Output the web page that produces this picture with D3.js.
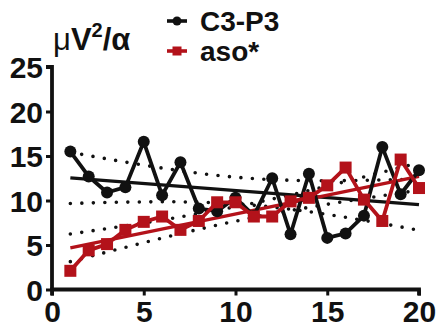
<!DOCTYPE html>
<html>
<head>
<meta charset="utf-8">
<script src="https://cdn.jsdelivr.net/npm/d3@7"></script>
<style>
  html, body { margin: 0; padding: 0; background: #fff; }
  svg { display: block; font-family: "Liberation Sans", Arial, sans-serif; }
</style>
</head>
<body>
<div id="chart"></div>
<script>
// values
const xs = d3.range(1, 21);
const c3p3 = [15.5, 12.7, 10.9, 11.5, 16.6, 10.6, 14.3, 9.1, 8.8, 10.3,
              8.3, 12.5, 6.2, 13.0, 5.8, 6.3, 8.3, 16.0, 10.7, 13.4];
const aso = [2.1, 4.4, 5.1, 6.7, 7.6, 8.2, 6.7, 7.7, 9.8, 9.8,
             8.2, 8.2, 9.9, 10.3, 11.7, 13.7, 10.1, 7.7, 14.6, 11.4];
const yTicks = [0, 5, 10, 15, 20, 25];
const xTicks = [0, 5, 10, 15, 20];

const series = [
  { name: "C3-P3", values: c3p3, color: "#111", shape: "circle" },
  { name: "aso*", values: aso, color: "#b3121a", shape: "square" }
];

const width = 441, height = 333;
const x = d3.scaleLinear().domain([0, 20]).range([52, 419]);
const y = d3.scaleLinear().domain([0, 25]).range([289.5, 67]);

const svg = d3.select("#chart").append("svg")
  .attr("width", width).attr("height", height);

// least squares fit + 95% confidence band of the line
function fit(vals) {
  const n = vals.length;
  const mx = d3.mean(xs), my = d3.mean(vals);
  const sxx = d3.sum(xs, v => (v - mx) ** 2);
  const b = d3.sum(xs, (v, i) => (v - mx) * (vals[i] - my)) / sxx;
  const a = my - b * mx;
  const s = Math.sqrt(d3.sum(xs, (v, i) => (vals[i] - a - b * v) ** 2) / (n - 2));
  const t = 2.101; // df = 18
  const band = d3.range(1, 20.01, 0.25).map(v => {
    const h = t * s * Math.sqrt(1 / n + (v - mx) ** 2 / sxx);
    return { x: v, fit: a + b * v, lo: a + b * v - h, hi: a + b * v + h };
  });
  return band;
}

const line = d3.line().x(d => x(d[0])).y(d => y(d[1]));

// dotted confidence bands
series.forEach(s => {
  const band = fit(s.values);
  ["lo", "hi"].forEach(k => {
    svg.append("path")
      .attr("d", d3.line().x(d => x(d.x)).y(d => y(d[k]))(band))
      .attr("fill", "none").attr("stroke", "#111")
      .attr("stroke-width", 3.6).attr("stroke-linecap", "round")
      .attr("stroke-dasharray", "0,11.5");
  });
  s.band = band;
});

// regression lines
series.forEach(s => {
  const b = s.band;
  svg.append("path")
    .attr("d", line([[b[0].x, b[0].fit], [b[b.length - 1].x, b[b.length - 1].fit]]))
    .attr("fill", "none").attr("stroke", s.color).attr("stroke-width", 3.4);
});

// data lines and markers
function marker(g, shape, color, size) {
  if (shape === "circle") {
    g.append("circle").attr("r", size / 2).attr("fill", color);
  } else {
    g.append("rect").attr("x", -size / 2).attr("y", -size / 2)
      .attr("width", size).attr("height", size).attr("fill", color);
  }
}

series.forEach(s => {
  const pts = xs.map((v, i) => [v, s.values[i]]);
  svg.append("path").attr("d", line(pts))
    .attr("fill", "none").attr("stroke", s.color)
    .attr("stroke-width", 3.8).attr("stroke-linejoin", "round");
  svg.append("g").selectAll("g").data(pts).join("g")
    .attr("transform", d => `translate(${x(d[0])},${y(d[1])})`)
    .each(function () { marker(d3.select(this), s.shape, s.color, 12); });
});

// axes
const yAxis = svg.append("g").attr("transform", `translate(${x(0)},0)`)
  .call(d3.axisLeft(y).tickValues(yTicks).tickSize(6).tickPadding(3));
const xAxis = svg.append("g").attr("transform", `translate(0,${y(0)})`)
  .call(d3.axisBottom(x).tickValues(xTicks).tickSize(6).tickPadding(5));
[yAxis, xAxis].forEach(ax => {
  ax.select(".domain").attr("stroke", "#111").attr("stroke-width", 3.8);
  ax.selectAll(".tick line").attr("stroke", "#111").attr("stroke-width", 3);
  ax.selectAll(".tick text").attr("fill", "#111")
    .attr("font-family", "Liberation Sans, Arial, sans-serif")
    .attr("font-size", 30).attr("font-weight", "bold");
});
yAxis.select(".domain").attr("d", `M-6,${y(25)}H0V${y(0)}`);
xAxis.select(".domain").attr("d", `M${x(0)},6V0H${x(20)}V6`);
yAxis.selectAll(".tick text").attr("dy", "0.36em");

// unit label
const unit = svg.append("text").attr("x", 53).attr("y", 50)
  .attr("font-size", 31).attr("fill", "#111");
unit.append("tspan").text("μ");
unit.append("tspan").attr("font-weight", "bold").text("V");
unit.append("tspan").attr("font-weight", "bold").attr("font-size", 20).attr("dy", -13).text("2");
unit.append("tspan").attr("dy", 13).attr("font-weight", "bold").text("/α");

// legend
const legend = svg.append("g");
series.forEach((s, i) => {
  const g = legend.append("g").attr("transform", `translate(177,${21 + i * 30})`);
  g.append("line").attr("x1", -10).attr("x2", 10)
    .attr("stroke", s.color).attr("stroke-width", 3.6);
  marker(g, s.shape, s.color, 9);
  g.append("text").attr("x", 23).attr("y", 0).attr("dy", "0.35em")
    .attr("font-size", 28).attr("font-weight", "bold").attr("fill", "#111")
    .text(s.name);
});
</script>
</body>
</html>
